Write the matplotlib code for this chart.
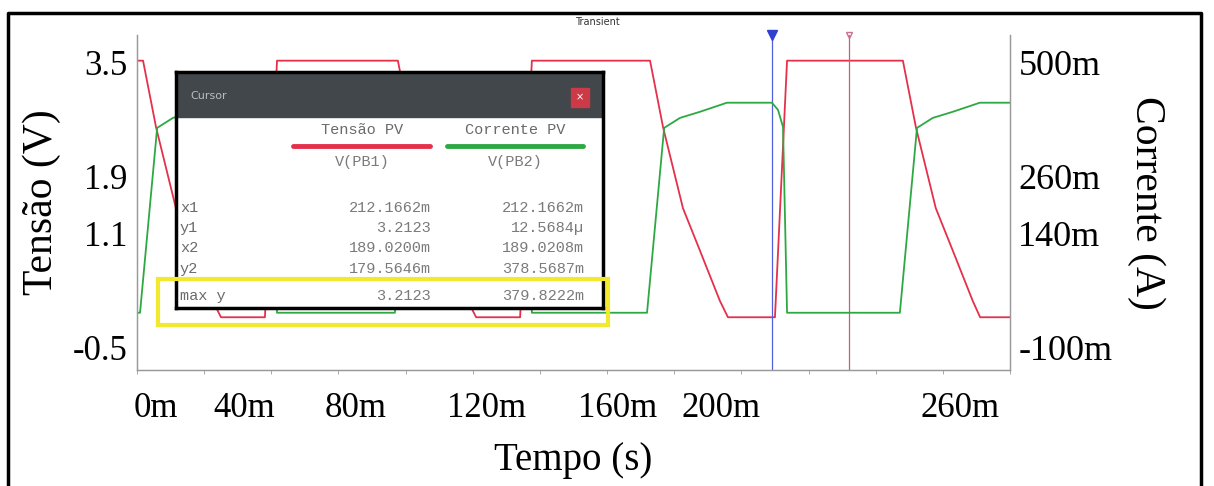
import matplotlib
matplotlib.use("Agg")
import matplotlib.pyplot as plt
from matplotlib.patches import Rectangle
import numpy as np

# Tensao PV (V) - red trace, time in ms
v_time = [0, 1.8, 5.7, 11.6, 16.7, 22.6, 25.0, 38.1, 41.7, 77.7, 81.6, 87.5, 92.6,
          98.5, 101.0, 114.1, 117.6, 152.8, 156.7, 162.6, 167.7, 173.6, 176.0,
          190.0, 193.6, 228.1, 232.0, 237.9, 243.0, 248.9, 251.1, 260.0]
v_vals = [3.53, 3.53, 2.59, 1.46, 0.86, 0.16, -0.07, -0.07, 3.53, 3.53, 2.59, 1.46, 0.86,
          0.16, -0.07, -0.07, 3.53, 3.53, 2.59, 1.46, 0.86, 0.16, -0.07,
          -0.07, 3.53, 3.53, 2.59, 1.46, 0.86, 0.16, -0.07, -0.07]

# Corrente PV (A) - green trace
i_time = [0, 0.9, 6.0, 10.7, 16.7, 24.7, 37.2, 38.9, 40.5, 41.7, 76.8, 81.9, 86.6,
          92.6, 100.6, 113.2, 115.0, 116.5, 117.6, 151.9, 157.0, 161.7, 167.7,
          175.7, 189.1, 190.9, 192.4, 193.6, 227.2, 232.3, 237.0, 243.0, 251.0, 260.0]
i_vals = [-0.026, -0.026, 0.363, 0.384, 0.397, 0.416, 0.416, 0.401, 0.365, -0.026,
          -0.026, 0.363, 0.384, 0.397, 0.416, 0.416, 0.401, 0.365, -0.026, -0.026,
          0.363, 0.384, 0.397, 0.416, 0.416, 0.401, 0.365, -0.026, -0.026, 0.363,
          0.384, 0.397, 0.416, 0.416]

cursor1 = 212.1662
cursor2 = 189.0200

x_labels = ["0m", "40m", "80m", "120m", "160m", "200m", "260m"]
v_ticks = [3.5, 1.9, 1.1, -0.5]
v_labels = ["3.5", "1.9", "1.1", "-0.5"]
i_ticks = [0.5, 0.26, 0.14, -0.1]
i_labels = ["500m", "260m", "140m", "-100m"]

# cursor window contents
col_names = ["Tensão PV", "Corrente PV"]
col_nodes = ["V(PB1)", "V(PB2)"]
row_names = ["x1", "y1", "x2", "y2", "max y"]
col1_vals = ["212.1662m", "3.2123", "189.0200m", "179.5646m", "3.2123"]
col2_vals = ["212.1662m", "12.5684µ", "189.0208m", "378.5687m", "379.8222m"]

# where the (pasted) x labels sit in the picture, in ms
x_label_pos = [5.5, 32, 65, 104, 143, 174, 245]

RED = "#e5304a"
GREEN = "#2ea843"
W, H = 1214, 486

fig = plt.figure(figsize=(W / 100, H / 100), dpi=100)
ax = fig.add_axes([137 / W, 1 - 370 / H, 873 / W, 335 / H])
ax2 = ax.twinx()

ax.plot(v_time, v_vals, color=RED, lw=1.3)
ax2.plot(i_time, i_vals, color=GREEN, lw=1.3)

ax.set_xlim(0, 260)
ax.set_ylim(-0.81, 3.89)
ax2.set_ylim(-0.1 - 0.31 * 0.15, 0.5 + 0.39 * 0.15)

# cursors
ax.axvline(cursor2, color="#5060dd", lw=0.9)
ax.axvline(cursor1, color="#c0607a", lw=0.9)
ax.plot([cursor2], [3.89], marker="v", color="#3040d0", ms=7, clip_on=False)
ax.plot([cursor1], [3.89], marker="v", color="#d07090", ms=4, mfc="none", clip_on=False)

serif = "Liberation Serif"
ax.set_xticks(x_label_pos)
ax.set_xticklabels(x_labels, family=serif, fontsize=25)
ax.set_xticks(np.arange(0, 261, 20), minor=True)
ax.tick_params(axis="x", which="major", length=0, pad=16)
ax.tick_params(axis="x", which="minor", length=3, color="#999999")
ax.set_yticks(v_ticks)
ax.set_yticklabels(v_labels, family=serif, fontsize=25)
ax.tick_params(axis="y", length=0, pad=7)
ax2.set_yticks(i_ticks)
ax2.set_yticklabels(i_labels, family=serif, fontsize=26)
ax2.tick_params(axis="y", length=0, pad=6)

ax.set_xlabel("Tempo (s)", family=serif, fontsize=28, labelpad=12)
ax.set_ylabel("Tensão (V)", family=serif, fontsize=30, labelpad=8)
ax2.set_ylabel("Corrente (A)", family=serif, fontsize=30, rotation=-90, labelpad=38)

for a in (ax, ax2):
    a.spines["top"].set_visible(False)
    for s in ("left", "right", "bottom"):
        a.spines[s].set_color("#9a9a9a")
        a.spines[s].set_linewidth(0.9)

fig.text(597 / W, 1 - 22 / H, "Transient", ha="center", va="center", fontsize=7, color="#333333")

# cursor window, drawn in pixel coords
dlg = fig.add_axes([176 / W, 1 - 308 / H, 427 / W, 236 / H], zorder=5)
dlg.set_xlim(176, 603)
dlg.set_ylim(308, 72)
dlg.set_xticks([])
dlg.set_yticks([])
for s in dlg.spines.values():
    s.set_color("black")
    s.set_linewidth(2.5)
dlg.add_patch(Rectangle((176, 72), 427, 45, color="#42474b"))
dlg.text(190, 96, "Cursor", fontsize=8, color="#b8bcc0", va="center")
dlg.add_patch(Rectangle((571, 88), 18, 19, color="#cc3a48"))
dlg.text(580, 97.5, "×", fontsize=7, color="white", ha="center", va="center")

mono = "Liberation Mono"
col_x = [362, 515]
line_spans = [(293, 430), (447, 583)]
for k, c in enumerate([RED, GREEN]):
    dlg.text(col_x[k], 130, col_names[k], family=mono, fontsize=11, color="#6a6a6a",
             ha="center", va="center")
    dlg.plot(line_spans[k], [146, 146], color=c, lw=3.5, solid_capstyle="round")
    dlg.text(col_x[k], 162, col_nodes[k], family=mono, fontsize=11, color="#7a7a7a",
             ha="center", va="center")

row_y = [208, 228, 248, 269, 296]
for k in range(len(row_names)):
    dlg.text(180, row_y[k], row_names[k], family=mono, fontsize=11, color="#6a6a6a", va="center")
    dlg.text(431, row_y[k], col1_vals[k], family=mono, fontsize=11, color="#7a7a7a",
             ha="right", va="center")
    dlg.text(584, row_y[k], col2_vals[k], family=mono, fontsize=11, color="#7a7a7a",
             ha="right", va="center")

# overlay: yellow highlight and outer frame
top = fig.add_axes([0, 0, 1, 1], zorder=10)
top.set_xlim(0, W)
top.set_ylim(H, 0)
top.axis("off")
top.patch.set_alpha(0)
top.add_patch(Rectangle((158, 279), 450, 46, fill=False, ec="#f2e830", lw=3))
top.plot([8, 8, 1201, 1201], [H + 5, 13, 13, H + 5], color="black", lw=2.5)

fig.savefig("out.png", dpi=100)
